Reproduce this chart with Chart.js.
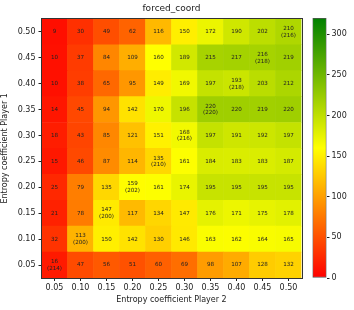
<!DOCTYPE html>
<html>
<head>
<meta charset="utf-8">
<script src="https://cdn.jsdelivr.net/npm/chart.js@4.4.1/dist/chart.umd.min.js"></script>
<style>
  html, body { margin: 0; padding: 0; background: #fff; }
  #wrap { position: relative; width: 354px; height: 310px; }
  #heat { position: absolute; left: 0; top: 0; }
  #cbar { position: absolute; left: 300px; top: 0; }
</style>
</head>
<body>
<div id="wrap">
  <canvas id="heat" width="354" height="310"></canvas>
  <canvas id="cbar" width="54" height="310"></canvas>
</div>
<script>
const xLabels = ['0.05', '0.10', '0.15', '0.20', '0.25', '0.30', '0.35', '0.40', '0.45', '0.50'];
const yLabels = ['0.05', '0.10', '0.15', '0.20', '0.25', '0.30', '0.35', '0.40', '0.45', '0.50'];

// one row per Player 1 value, from 0.05 (bottom) up to 0.50 (top)
const cellValues = [
  [16, 47, 56, 51, 60, 69, 98, 107, 128, 132],
  [32, 113, 150, 142, 130, 146, 163, 162, 164, 165],
  [21, 78, 147, 117, 134, 147, 176, 171, 175, 178],
  [25, 79, 135, 159, 161, 174, 195, 195, 195, 195],
  [15, 46, 87, 114, 135, 161, 184, 183, 183, 187],
  [18, 43, 85, 121, 151, 168, 197, 191, 192, 197],
  [14, 45, 94, 142, 170, 196, 220, 220, 219, 220],
  [10, 38, 65, 95, 149, 169, 197, 193, 203, 212],
  [10, 37, 84, 109, 160, 189, 215, 217, 216, 219],
  [9, 30, 49, 62, 116, 150, 172, 190, 202, 210]
];
// values in brackets on the diagonal
const diagValues = [214, 200, 200, 202, 210, 216, 220, 218, 218, 216];

const cbarTicks = [0, 50, 100, 150, 200, 250, 300];
const vmax = 320;

const FONT = '"DejaVu Sans", sans-serif';
const INK = '#222';

// red -> yellow -> green
function cmap(v) {
  let t = Math.max(0, Math.min(1, v / vmax));
  let r, g, b = 0;
  if (t <= 0.5) {
    const f = t / 0.5;
    r = 255; g = Math.round(255 * f);
  } else {
    const f = (t - 0.5) / 0.5;
    r = Math.round(255 * (1 - f));
    g = Math.round(255 + (128 - 255) * f);
  }
  return `rgb(${r},${g},${b})`;
}

const cellText = {
  id: 'cellText',
  afterDatasetsDraw(chart) {
    const c = chart.ctx;
    c.save();
    c.fillStyle = INK;
    c.font = '5.6px ' + FONT;
    c.textAlign = 'center';
    c.textBaseline = 'middle';
    chart.data.datasets.forEach((ds, r) => {
      chart.getDatasetMeta(r).data.forEach((bar, col) => {
        const cx = bar.x, cy = (bar.y + bar.base) / 2;
        const v = cellValues[r][col];
        if (r === col) {
          c.fillText(String(v), cx, cy - 3.3);
          c.fillText('(' + diagValues[r] + ')', cx, cy + 3.5);
        } else {
          c.fillText(String(v), cx, cy);
        }
      });
    });
    c.restore();
  }
};

const frame = {
  id: 'frame',
  afterDraw(chart) {
    const a = chart.chartArea, c = chart.ctx;
    c.save();
    c.strokeStyle = '#333';
    c.lineWidth = 1;
    c.strokeRect(Math.round(a.left) - 0.5, Math.round(a.top) - 0.5,
      Math.round(a.right - a.left) + 1, Math.round(a.bottom - a.top) + 1);
    c.restore();
  }
};

new Chart(document.getElementById('heat'), {
  type: 'bar',
  data: {
    labels: xLabels,
    datasets: cellValues.map((row, r) => ({
      data: row.map(() => [r, r + 1]),
      backgroundColor: row.map(cmap),
      borderWidth: 0,
      grouped: false,
      barPercentage: 1,
      categoryPercentage: 1
    }))
  },
  options: {
    responsive: false,
    animation: false,
    layout: { padding: { left: 0, right: 52.5, top: 0, bottom: 5 } },
    plugins: {
      legend: { display: false },
      tooltip: { enabled: false },
      title: {
        display: true, text: 'forced_coord', fullSize: false, color: INK,
        font: { family: FONT, size: 9, weight: 'normal' },
        padding: { top: 3, bottom: 5 }
      }
    },
    scales: {
      x: {
        type: 'category', offset: true,
        grid: { offset: false, drawOnChartArea: false, drawTicks: true, tickLength: 3, color: INK },
        border: { display: false },
        ticks: { color: INK, font: { family: FONT, size: 8 }, padding: 2, maxRotation: 0, autoSkip: false },
        title: { display: true, text: 'Entropy coefficient Player 2', color: INK, font: { family: FONT, size: 8 }, padding: 0 },
        afterFit: s => { s.height = 27; }
      },
      y: {
        type: 'linear', min: 0, max: 10,
        afterBuildTicks: s => { s.ticks = yLabels.map((_, i) => ({ value: i + 0.5 })); },
        grid: { drawOnChartArea: false, drawTicks: true, tickLength: 3, color: INK },
        border: { display: false },
        ticks: { color: INK, font: { family: FONT, size: 8 }, padding: 3, callback: (v, i) => yLabels[i] },
        title: { display: true, text: 'Entropy coefficient Player 1', color: INK, font: { family: FONT, size: 8 }, padding: 0 },
        afterFit: s => { s.width = 41.5; }
      }
    }
  },
  plugins: [cellText, frame]
});

new Chart(document.getElementById('cbar'), {
  type: 'bar',
  data: {
    labels: [''],
    datasets: [{
      data: [[0, vmax]],
      backgroundColor: ctx => {
        const a = ctx.chart.chartArea;
        if (!a) return 'rgba(0,0,0,0)';
        const g = ctx.chart.ctx.createLinearGradient(0, a.bottom, 0, a.top);
        g.addColorStop(0, cmap(0));
        g.addColorStop(0.5, cmap(vmax / 2));
        g.addColorStop(1, cmap(vmax));
        return g;
      },
      borderColor: '#555',
      borderWidth: 1,
      borderSkipped: false,
      barPercentage: 1,
      categoryPercentage: 1
    }]
  },
  options: {
    responsive: false,
    animation: false,
    layout: { padding: { left: 12.5, right: 0, top: 18, bottom: 32 } },
    plugins: { legend: { display: false }, tooltip: { enabled: false } },
    scales: {
      x: { display: false },
      y: {
        position: 'right', min: 0, max: vmax,
        afterBuildTicks: s => { s.ticks = cbarTicks.map(v => ({ value: v })); },
        grid: { drawOnChartArea: false, drawTicks: true, tickLength: 3, color: INK },
        border: { display: false },
        ticks: { color: INK, font: { family: FONT, size: 8 }, padding: 2 },
        afterFit: s => { s.width = 27.5; }
      }
    }
  }
});
</script>
</body>
</html>
